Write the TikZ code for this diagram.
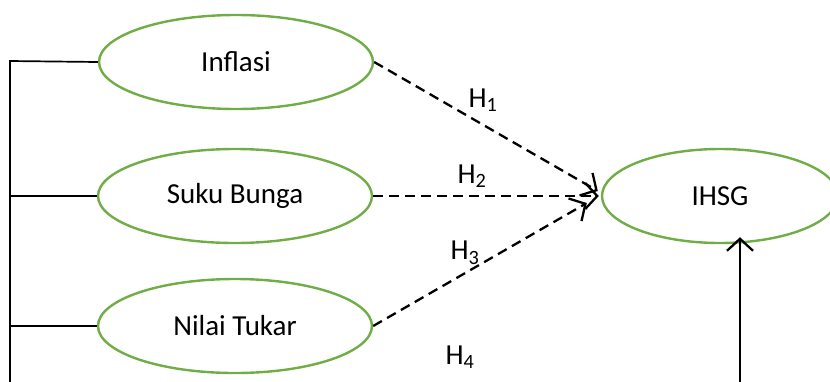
\documentclass[tikz,border=0pt]{standalone}
\usepackage{fontspec}
\setmainfont{Carlito}
\usetikzlibrary{shapes.geometric,arrows.meta}
\definecolor{varline}{RGB}{112,173,71}
\tikzset{
  var/.style={ellipse,draw=varline,line width=2.4pt,inner sep=0pt,
              minimum width=274pt,minimum height=94pt,font=\fontsize{29}{34}\selectfont},
  hyp/.style={dashed,dash pattern=on 10pt off 6pt,line width=2.3pt,
              -{Straight Barb[length=12pt,width=26pt,line width=2.3pt]}},
  lbl/.style={font=\fontsize{29}{34}\selectfont,inner sep=0pt}
}
\begin{document}
\begin{tikzpicture}[x=1pt,y=-1pt]
                 \clip (0,0) rectangle (830,381);
                 \node[var](inf)at(236,62){Inflasi};
                 \node[var](sb)at(235,196){Suku Bunga};
                 \node[var](nt)at(235,326){Nilai Tukar};
                 \node[var,minimum width=236pt](ihsg)at(720,196){IHSG};
                 \coordinate(top)at(10,61);
                 \coordinate(bot)at(10,395);
                 \draw[line width=1.7pt](inf.west)--(top)--(bot);
                 \draw[line width=1.7pt](sb.west)--(sb.west-|top);
                 \draw[line width=1.7pt](nt.west)--(nt.west-|top);
                 \draw[hyp](inf.east)--([shift={(-3,-5)}]ihsg.west);
                 \draw[hyp](sb.east)--([shift={(-2,0)}]ihsg.west);
                 \draw[hyp](nt.east)--([shift={(-14,7)}]ihsg.west);
                 \coordinate(src)at(740,395);
                 \draw[line width=2.3pt,-{Straight Barb[length=12pt,width=26pt,line width=2.3pt]}]
                   (src)--([yshift=7pt]ihsg.south-|src);
                 \node[lbl](h1)at(483,100){H\textsubscript{1}};
                 \node[lbl](h2)at(472,176){H\textsubscript{2}};
                 \node[lbl](h3)at(465,253){H\textsubscript{3}};
                 \node[lbl](h4)at(460,357){H\textsubscript{4}};
               \end{tikzpicture}
\end{document}
